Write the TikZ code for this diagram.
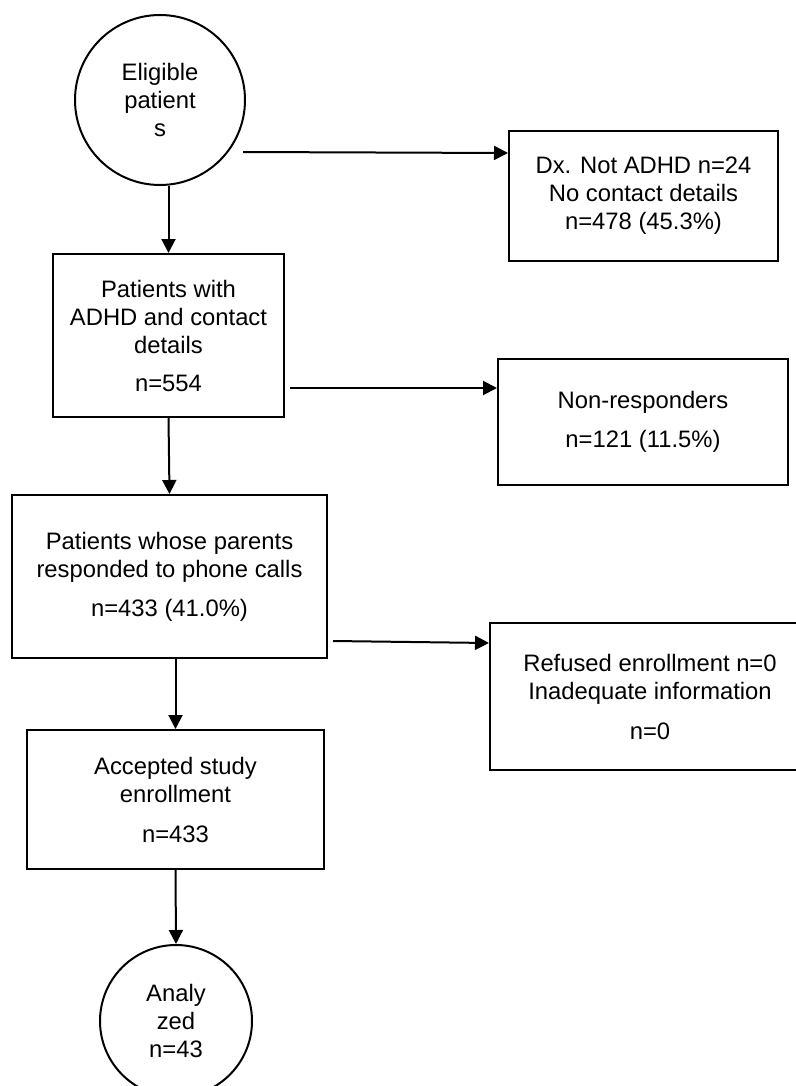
\documentclass[tikz,border=0pt]{standalone}
\usepackage{fontspec}
\setmainfont{Liberation Sans}
\usetikzlibrary{arrows.meta,calc}

\begin{document}
\begin{tikzpicture}[x=1pt, y=-1pt,
    txt/.style={font=\fontsize{23.8}{28}\selectfont, align=center, inner sep=0pt},
    box/.style={txt, draw, line width=2pt},
    circ/.style={txt, draw, circle, line width=2pt},
    arr/.style={-{Triangle[length=14pt,width=14pt]}, line width=2pt}]
    \useasboundingbox (0,0) rectangle (795,1086);
    \node[circ, minimum size=170pt] (elig) at (160,100) {Eligible\\patient\\s};
    \node[box, minimum width=269pt, minimum height=130pt] (dx) at (643.5,196) {Dx. Not ADHD n=24\\No contact details\\n=478 (45.3\%)};
    \node[box, minimum width=231pt, minimum height=163pt] (adhd) at (168.5,335.5) {Patients with\\ADHD and contact\\details\\[10pt]n=554};
    \node[box, minimum width=290pt, minimum height=126pt] (nonresp) at (643,422) {Non-responders\\[11pt]n=121 (11.5\%)};
    \node[box, minimum width=315pt, minimum height=163pt] (parents) at (169.5,576.5) {Patients whose parents\\responded to phone calls\\[11pt]n=433 (41.0\%)};
    \node[box, minimum width=320pt, minimum height=147pt] (refused) at (650,696.5) {Refused enrollment n=0\\Inadequate information\\[12pt]n=0};
    \node[box, minimum width=297pt, minimum height=139pt] (accepted) at (175.5,799.5) {Accepted study\\enrollment\\[12pt]n=433};
    \node[circ, minimum size=152pt] (analyzed) at (176,1021) {Analy\\zed\\n=43};
    \draw[arr] ([xshift=-3pt,yshift=-52pt]elig.east) -- ([yshift=43pt]dx.west);
    \draw[arr] (elig.south -| adhd.north) -- (adhd.north);
    \draw[arr] ([xshift=5pt,yshift=-52.5pt]adhd.east) -- ([yshift=34pt]nonresp.west);
    \draw[arr] (adhd.south) -- (parents.north);
    \draw[arr] ([xshift=5pt,yshift=-64.5pt]parents.east) -- ([yshift=53.5pt]refused.west);
    \draw[arr] (parents.south -| accepted.north) -- (accepted.north);
    \draw[arr] (accepted.south) -- (analyzed.north);
\end{tikzpicture}
\end{document}
